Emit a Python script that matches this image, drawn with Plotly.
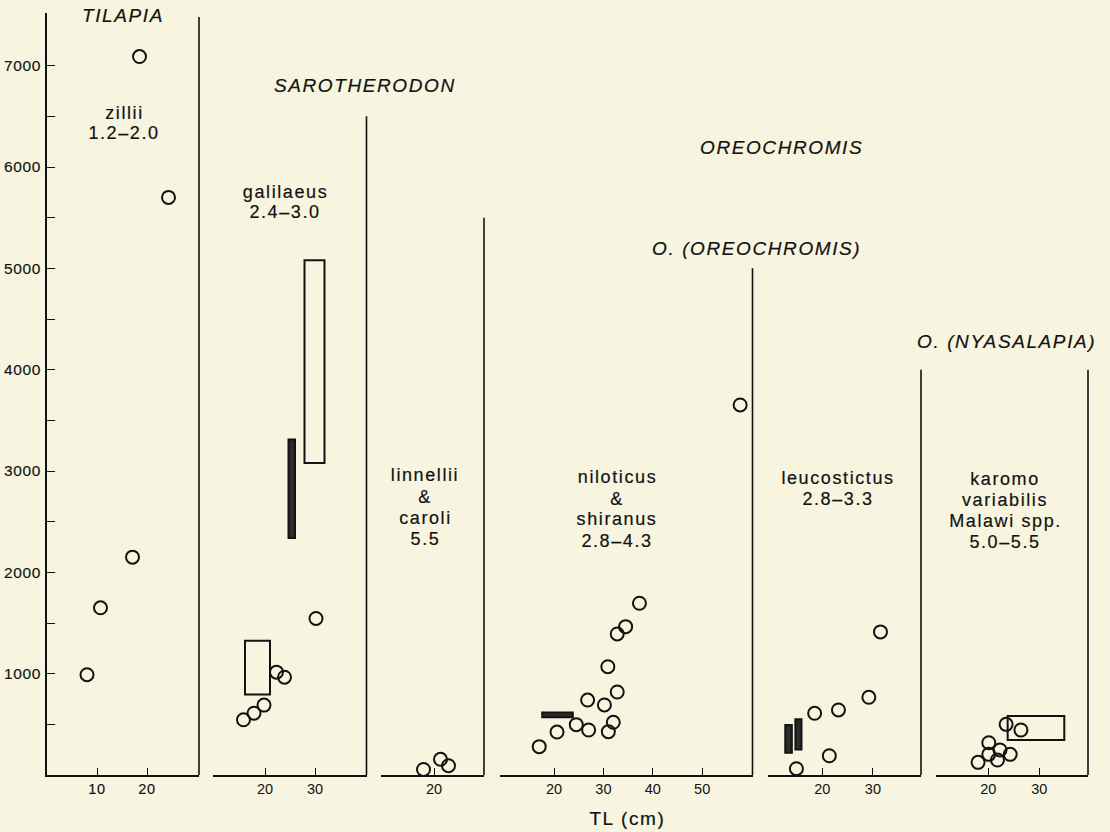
import plotly.graph_objects as go

# ---- Fecundity (number of eggs) against total length (TL, cm) ----

zillii_tl = [8.0, 10.7, 17.1, 18.5, 24.3]
zillii_eggs = [990, 1650, 2150, 7090, 5700]

galilaeus_tl = [15.7, 17.8, 19.8, 22.3, 23.9, 30.2]
galilaeus_eggs = [545, 610, 690, 1015, 965, 1545]
# ranges given as [tl_min, tl_max, eggs_min, eggs_max]
galilaeus_open_ranges = [[16.0, 21.0, 795, 1325], [27.9, 31.9, 3080, 5080]]
galilaeus_solid_ranges = [[24.7, 26.0, 2340, 3310]]

linnellii_tl = [17.9, 21.3, 22.9]
linnellii_eggs = [55, 155, 92]

niloticus_tl = [17.0, 20.6, 24.5, 27.0, 26.8, 30.2, 31.0, 32.0, 32.8, 30.9, 32.8, 34.5, 37.3, 57.7]
niloticus_eggs = [280, 424, 497, 444, 740, 691, 428, 520, 819, 1069, 1392, 1464, 1695, 3652]
niloticus_solid_ranges = [[17.6, 23.8, 569, 618]]

leucostictus_tl = [14.9, 21.4, 18.5, 23.2, 29.2, 31.5]
leucostictus_eggs = [62, 190, 609, 642, 767, 1412]
leucostictus_solid_ranges = [[12.7, 14.0, 220, 494], [14.7, 15.9, 252, 550]]

karomo_tl = [18.0, 20.1, 20.1, 22.3, 21.8, 24.3, 23.5, 26.4]
karomo_eggs = [125, 319, 204, 247, 148, 204, 500, 444]
karomo_open_ranges = [[23.8, 34.9, 345, 582]]

# height (eggs) reached by the right-hand rule of each panel
panel_rule_top = [7480, 6500, 5500, 5000, 4000, 4000]

panel_ticks = [[10, 20], [20, 30], [20], [20, 30, 40, 50], [20, 30], [20, 30]]
y_ticks = [1000, 2000, 3000, 4000, 5000, 6000, 7000]
y_minor_ticks = [500, 1500, 2500, 3500, 4500, 5500, 6500]

species_labels = [
    ["zillii", "1.2–2.0"],
    ["galilaeus", "2.4–3.0"],
    ["linnellii", "&", "caroli", "5.5"],
    ["niloticus", "&", "shiranus", "2.8–4.3"],
    ["leucostictus", "2.8–3.3"],
    ["karomo", "variabilis", "Malawi spp.", "5.0–5.5"],
]
group_labels = ["TILAPIA", "SAROTHERODON", "OREOCHROMIS", "O. (OREOCHROMIS)", "O. (NYASALAPIA)"]
x_title = "TL (cm)"

# ---- page geometry (pixels) ----
W, H = 1110, 832
ML, MR, MT, MB = 47, 20, 13, 57
PW = W - ML - MR
PH = H - MT - MB

def fx(px):
    return (px - ML) / PW

def fy(py):
    return (H - MB - py) / PH

# panel pixel extents and axis ranges
panel_px = [(47, 199), (213, 366.5), (381, 484), (500, 752.5), (768, 921), (936, 1088)]
panel_range = [[0, 30.4], [9.6, 40.3], [9.4, 30.0], [9.05, 60.2], [9.29, 39.5], [9.75, 39.55]]

# label placement (pixels)
species_pos = [
    (124, [113, 133]),
    (285, [192, 212]),
    (425, [475, 497, 518, 539]),
    (617, [477, 499, 519, 541]),
    (838, [478, 499]),
    (1005, [479, 500, 521, 542]),
]
group_pos = [(80, 16), (272, 85), (698, 147), (650, 249), (915, 341)]

INK = "#121212"
BG = "#f7f5df"
FONT = "Liberation Sans, Arial, sans-serif"

fig = go.Figure()

series = [
    (zillii_tl, zillii_eggs),
    (galilaeus_tl, galilaeus_eggs),
    (linnellii_tl, linnellii_eggs),
    (niloticus_tl, niloticus_eggs),
    (leucostictus_tl, leucostictus_eggs),
    (karomo_tl, karomo_eggs),
]
names = ["zillii", "galilaeus", "linnellii & caroli", "niloticus & shiranus",
         "leucostictus", "karomo, variabilis, Malawi spp."]

for i, (xs, ys) in enumerate(series):
    xa = "x" if i == 0 else f"x{i + 1}"
    fig.add_trace(go.Scatter(
        x=xs, y=ys, mode="markers", name=names[i], xaxis=xa, yaxis="y",
        marker=dict(symbol="circle-open", size=13, color=INK, line=dict(width=2, color=INK)),
        showlegend=False, hoverinfo="x+y",
    ))

shapes = []
# right-hand rule of each panel
for i, top in enumerate(panel_rule_top):
    xr = "x domain" if i == 0 else f"x{i + 1} domain"
    shapes.append(dict(type="line", xref=xr, yref="y", x0=1, x1=1, y0=0, y1=top,
                       line=dict(color=INK, width=1.6)))

def add_ranges(ranges, panel, solid):
    xr = "x" if panel == 0 else f"x{panel + 1}"
    for x0, x1, y0, y1 in ranges:
        shapes.append(dict(type="rect", xref=xr, yref="y", x0=x0, x1=x1, y0=y0, y1=y1,
                           line=dict(color=INK, width=2),
                           fillcolor="#2b2b2b" if solid else "rgba(0,0,0,0)"))

add_ranges(galilaeus_open_ranges, 1, False)
add_ranges(galilaeus_solid_ranges, 1, True)
add_ranges(niloticus_solid_ranges, 3, True)
add_ranges(leucostictus_solid_ranges, 4, True)
add_ranges(karomo_open_ranges, 5, False)

annotations = []
for lines, (cx, ys) in zip(species_labels, species_pos):
    for txt, py in zip(lines, ys):
        annotations.append(dict(text=txt, xref="paper", yref="paper", x=fx(cx), y=fy(py),
                                xanchor="center", yanchor="middle", showarrow=False, align="center",
                                font=dict(family=FONT, size=18, color=INK)))
for txt, (lx, py) in zip(group_labels, group_pos):
    annotations.append(dict(text=txt, xref="paper", yref="paper", x=fx(lx), y=fy(py),
                            xanchor="left", yanchor="middle", showarrow=False, align="left",
                            font=dict(family=FONT, size=19, color=INK, style="italic")))
annotations.append(dict(text=x_title, xref="paper", yref="paper", x=fx(627), y=fy(818),
                        xanchor="center", yanchor="middle", showarrow=False, align="center",
                        font=dict(family=FONT, size=19, color=INK)))

layout = dict(
    width=W, height=H,
    margin=dict(l=ML, r=MR, t=MT, b=MB, pad=0, autoexpand=False),
    paper_bgcolor=BG, plot_bgcolor=BG,
    showlegend=False,
    shapes=shapes,
    annotations=annotations,
    font=dict(family=FONT, color=INK),
    yaxis=dict(
        range=[0, 7520], tickmode="array", tickvals=y_ticks, automargin=False,
        ticks="inside", ticklen=8, tickwidth=1.4, tickcolor=INK,
        showline=True, linewidth=1.8, linecolor=INK,
        showgrid=False, zeroline=False, anchor="x",
        tickfont=dict(family=FONT, size=15.5, color=INK), ticklabelstandoff=1,
        minor=dict(tickmode="array", tickvals=y_minor_ticks, ticks="inside",
                   ticklen=8, tickwidth=1.2, tickcolor=INK, showgrid=False),
    ),
)

for i in range(6):
    key = "xaxis" if i == 0 else f"xaxis{i + 1}"
    p0, p1 = panel_px[i]
    layout[key] = dict(
        domain=[fx(p0), fx(p1)], range=panel_range[i], anchor="y", automargin=False,
        tickmode="array", tickvals=panel_ticks[i],
        ticks="inside", ticklen=7, tickwidth=1.4, tickcolor=INK,
        showline=True, linewidth=1.6, linecolor=INK,
        showgrid=False, zeroline=False,
        tickfont=dict(family=FONT, size=14.5, color=INK),
    )

fig.update_layout(**layout)

# slightly open tracking and a touch of weight, as in the typeset figure
spacing_js = """
var gd = document.getElementById('{plot_id}');
gd.querySelectorAll('.annotation-text').forEach(function(t){
    t.style.letterSpacing = '1.6px';
    t.style.stroke = '#121212';
    t.style.strokeWidth = '0.2px';
});
gd.querySelectorAll('.xtick text, .ytick text').forEach(function(t){
    t.style.letterSpacing = '0.6px';
    t.style.stroke = '#121212';
    t.style.strokeWidth = '0.15px';
});
"""

fig.write_html("out.html", post_script=spacing_js)
